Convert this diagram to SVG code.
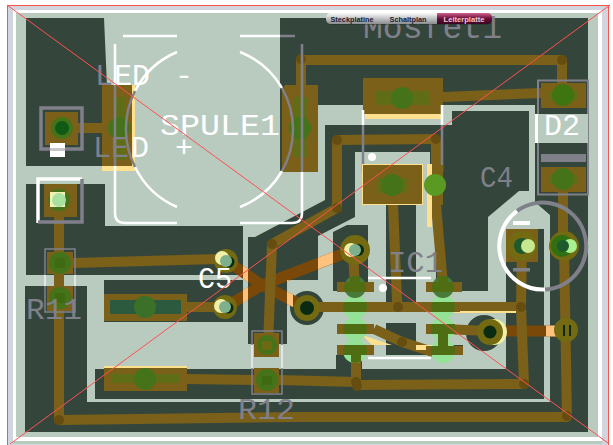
<svg xmlns="http://www.w3.org/2000/svg" width="613" height="445" viewBox="0 0 613 445">
<defs>
<linearGradient id="tabA" x1="0" y1="0" x2="0" y2="1"><stop offset="0" stop-color="#fafafa"/><stop offset="1" stop-color="#8a8c8e"/></linearGradient>
<linearGradient id="tabB" x1="0" y1="0" x2="0" y2="1"><stop offset="0" stop-color="#d0608c"/><stop offset=".5" stop-color="#6a1038"/><stop offset="1" stop-color="#3a0420"/></linearGradient>
<clipPath id="gapLight"><rect x="243" y="255" width="5" height="60"/><rect x="287" y="280" width="6" height="30"/><rect x="318" y="245" width="15" height="40"/></clipPath>
<clipPath id="icPads">
<rect x="337" y="282" width="37" height="10"/><rect x="330" y="302" width="44" height="10"/><rect x="337" y="324" width="37" height="10"/><rect x="337" y="345" width="37" height="10"/>
<rect x="426" y="282" width="36" height="10"/><rect x="430" y="302" width="30" height="10"/><rect x="426" y="324" width="29" height="10"/><rect x="426" y="346" width="37" height="9"/>
<rect x="350" y="276" width="10" height="6"/><rect x="438" y="329" width="10" height="17"/><rect x="351" y="355" width="10" height="8"/><rect x="438" y="276" width="10" height="6"/>
</clipPath>
</defs>
<style>
.d{fill:#34463b}
.l{fill:#b9cbbf}
.c{fill:#7a6018}
.y{fill:#ffe08e}
.t{fill:none;stroke:#7a6018;stroke-width:10;stroke-linecap:butt;stroke-linejoin:round}
.v{fill:#654d10}
.g{fill:#45731a}
.gs{fill:#5f6e16}
.ic{fill:#4f6e14}
.lg{fill:#94e296}
.s{fill:none;stroke:#80808a;stroke-width:2.5}
.w{fill:none;stroke:#fff;stroke-width:2.5}
.o{fill:#736a12}
.k{fill:#0a2a12}
.hl{fill:#f0f0a8}
.tx{font-family:"Liberation Mono","DejaVu Sans Mono",monospace;fill:#80808a}
.wt{fill:#fff}
.tab{font-family:"Liberation Sans",Arial,sans-serif;font-size:8px;font-weight:bold;text-anchor:middle}
</style>
<rect width="613" height="445" fill="#fff"/>
<path d="M8 6H608V445H8Z M13 10V441H602V10Z" fill="#d1d6de" fill-rule="evenodd"/>
<rect x="16" y="13" width="582" height="424" class="l"/>
<rect x="13" y="441" width="589" height="3" fill="#b9cbbf"/>

<g id="ground-fill">
<path class="d" d="M280 18H588V432H25V286H87V402H550V215L535 202V105H318V172H280Z"/>
<path class="d" d="M26 18H104L107 86H135V166H26Z"/>
<path class="d" d="M26 184H105V226H243V275H26Z"/>
<rect class="d" x="104" y="280" width="139" height="42"/>
<rect class="d" x="95" y="369" width="449" height="30"/>
<rect class="d" x="506" y="229" width="38" height="170"/>
<rect class="d" x="336" y="355" width="26" height="14"/>
<path class="d" d="M325 125H452V111H529V191H519L488 217V291H436V205H430V152H355V217L318 236V280H287V344H248V237H255L325 200Z"/>
<path class="d" d="M333 232L347 225H368V291H333Z"/>
<path class="d" d="M386 205H416V303L386 312Z"/>
<path class="d" d="M386 323H416V345H463V355H386Z"/>
<circle class="d" cx="307" cy="308" r="17"/>
<circle class="d" cx="484" cy="333" r="18"/>
</g>

<g id="connectors">
<path d="M234 266L262 285L307 308M234 302L262 285L353 250" fill="none" stroke="#7a4808" stroke-width="11"/>
<path d="M234 266L262 285L307 308M234 302L262 285L353 250" fill="none" stroke="#ffc27e" stroke-width="11" clip-path="url(#gapLight)"/>
<path d="M500 331H556" fill="none" stroke="#7a4808" stroke-width="11"/>
<path d="M546 331H556" fill="none" stroke="#ffc27e" stroke-width="11"/>
<path class="t" d="M78 128H110"/>
<path class="t" d="M301 59V90M300 60H562V90"/>
<path class="t" d="M443 97L541 93"/>
<path class="t" d="M436 139L337 140V208L272 244L268 345"/>
<path class="t" d="M436 139V205L443 285"/>
<path class="t" d="M393 204L397 300L398 307"/>
<path class="t" d="M59 217V420L300 417H567L564 246"/>
<path class="t" d="M563 192V246"/>
<path class="t" d="M73 263L218 259"/>
<path class="t" d="M187 307H218"/>
<path class="t" d="M187 379L254 380M279 380L356 382"/>
<path class="t" d="M357 385L524 384L521 307L522 243"/>
<path class="t" d="M316 307H521"/>
<path class="t" d="M353 250L355 290"/>
<path class="t" d="M443 329L490 331"/>
<path class="t" d="M443 329V351"/>
<path class="t" d="M374 329L402 342L433 352"/>
<path class="t" d="M356 351V382"/>
<path class="y" d="M362 335L392 345H372ZM416 345H433L437 350H416Z"/>
<rect class="y" x="450" y="311" width="66" height="2"/>
<rect class="y" x="427" y="205" width="5" height="22"/>
<circle class="v" cx="301" cy="59" r="5"/>
<circle class="v" cx="562" cy="60" r="5"/>
<circle class="v" cx="337" cy="140" r="5"/>
<circle class="v" cx="436" cy="139" r="5"/>
<circle class="v" cx="337" cy="208" r="5"/>
<circle class="v" cx="272" cy="244" r="5"/>
<circle class="v" cx="59" cy="420" r="5"/>
<circle class="v" cx="567" cy="416" r="5"/>
<circle class="v" cx="356" cy="382" r="5"/>
<circle class="v" cx="357" cy="386" r="5"/>
<circle class="v" cx="524" cy="384" r="5"/>
<circle class="v" cx="398" cy="307" r="5"/>
<circle class="v" cx="521" cy="307" r="5"/>
<circle class="v" cx="402" cy="342" r="5"/>
</g>

<g id="SPULE1">
<path class="y" d="M132 85H135V171H102V166H132Z"/>
<rect class="c" x="102" y="85" width="30" height="81"/>
<rect class="gs" x="116" y="97" width="9" height="63"/>
<circle class="g" cx="119" cy="128" r="11"/>
<path class="c" d="M282 90L285 85H318V172H282Z"/>
<rect class="gs" x="294" y="97" width="13" height="60"/>
<circle class="g" cx="300" cy="128" r="11"/>
<path class="w" d="M123 36H177M240 36H280M115 44V85M115 166V213Q115 223 125 223H177M240 223H292Q302 223 302 213V172M177 52A84 84 0 0 0 135 91M135 167A84 84 0 0 0 177 207M240 52A84 84 0 0 1 282 88M282 171A84 84 0 0 1 240 207"/>
<path class="s" d="M280 36H295M115 85V166M302 44V172M135 91A84 84 0 0 0 135 167M282 88A84 84 0 0 1 282 171"/>
<text class="tx wt" font-size="30" y="135" x="160" textLength="120" lengthAdjust="spacingAndGlyphs">SPULE1</text>
</g>

<g id="LED-minus">
<rect class="c" x="45" y="112" width="33" height="33"/>
<rect x="41" y="108" width="41" height="41" fill="none" stroke="#80808a" stroke-width="3.5"/>
<circle class="g" cx="62" cy="128" r="11"/>
<circle cx="62" cy="128" r="7" fill="#0f5a14"/>
<rect x="50" y="143" width="15" height="14" fill="#fff"/>
<rect x="50" y="148" width="15" height="3" fill="#c8c8cc"/>
<text class="tx" font-size="30" y="85"><tspan x="95">L</tspan><tspan x="114" class="wt">ED</tspan><tspan x="175" class="wt">-</tspan></text>
</g>

<g id="LED-plus">
<rect class="c" x="44" y="184" width="33" height="33"/>
<path d="M38 223V179H82" fill="none" stroke="#fff" stroke-width="3.5"/>
<path d="M82 179V222H38" fill="none" stroke="#80808a" stroke-width="3.5"/>
<circle class="g" cx="59" cy="200" r="11"/>
<rect x="50" y="192" width="15" height="15" fill="#f4f0b4"/>
<circle cx="59" cy="200" r="7" fill="#a8e0a0"/>
<text class="tx" font-size="30" y="157"><tspan x="93">LE</tspan><tspan x="131" class="wt">D</tspan><tspan x="175" class="wt">+</tspan></text>
</g>

<g id="Mosfet1">
<rect class="y" x="365" y="110" width="78" height="9"/>
<rect class="c" x="363" y="78" width="80" height="36"/>
<rect class="gs" x="376" y="91" width="53" height="14"/>
<circle class="g" cx="402" cy="98" r="11"/>
<path d="M363 110V125M442 105V125" class="w"/>
<path d="M363 125V172M442 125V172" class="s"/>
<rect class="y" x="362" y="164" width="61" height="41"/>
<rect class="c" x="363" y="165" width="59" height="39"/>
<rect class="gs" x="377" y="178" width="30" height="15"/>
<circle class="g" cx="392" cy="185" r="11"/>
<rect class="c" x="432" y="165" width="11" height="40"/>
<rect class="y" x="427" y="164" width="5" height="41"/>
<circle cx="435" cy="185" r="11" fill="#5a9a22"/>
<circle cx="372" cy="157" r="4" fill="#fff"/>
<text class="tx" font-size="33" x="363" y="38" textLength="139" lengthAdjust="spacingAndGlyphs">Mosfet1</text>
</g>

<g id="D2">
<rect x="538" y="80.500" width="50" height="114" fill="none" stroke="#80808a" stroke-width="2"/>
<rect class="l" x="535" y="114" width="53" height="29"/>
<rect x="535" y="114" width="3" height="29" fill="#fff"/>
<rect class="c" x="541" y="83" width="45" height="25"/>
<rect class="gs" x="549" y="91" width="29" height="9"/>
<circle cx="563" cy="95" r="11" fill="#3f7510"/>
<rect x="541" y="154" width="45" height="8" fill="#80808a"/>
<rect class="c" x="541" y="167" width="45" height="25"/>
<rect class="gs" x="549" y="175" width="29" height="9"/>
<circle class="g" cx="563" cy="179" r="11"/>
<text class="tx wt" font-size="30" x="544" y="135" textLength="36" lengthAdjust="spacingAndGlyphs">D2</text>
</g>

<g id="C4">
<path d="M517 211A43.500 43.500 0 1 1 545 289.500" fill="none" stroke="#80808a" stroke-width="4"/>
<path d="M517 211A43.500 43.500 0 0 0 545 289.500" fill="none" stroke="#fff" stroke-width="4"/>
<rect class="c" x="506" y="229" width="32" height="33"/>
<circle class="o" cx="522" cy="246" r="15"/>
<circle cx="522" cy="246" r="8" fill="#1f5a2c"/>
<circle cx="528" cy="246" r="7" fill="#c8e890"/>
<rect x="513" y="268" width="17" height="3.500" fill="#80808a"/>
<rect x="513" y="221" width="17" height="4" fill="#fff"/>
<text class="tx" font-size="30" x="480" y="187" textLength="33" lengthAdjust="spacingAndGlyphs">C4</text>
</g>

<g id="C4-plus">
<circle class="o" cx="564" cy="246" r="15"/>
<circle cx="562" cy="246" r="11" fill="#2f7012"/>
<circle cx="570" cy="246" r="7" fill="#a8f090"/>
<circle cx="563" cy="246" r="6" fill="#1f5a2c"/>
</g>

<g id="R11">
<rect class="c" x="47" y="252" width="26" height="22"/>
<rect class="c" x="47" y="286" width="26" height="25"/>
<circle class="g" cx="60" cy="263" r="11"/>
<circle class="g" cx="60" cy="298" r="11"/>
<rect x="55" y="258" width="10" height="10" fill="#3f6a12"/>
<rect x="55" y="293" width="10" height="10" fill="#3f6a12"/>
<rect x="45" y="249" width="30" height="63" fill="none" stroke="#80808a" stroke-width="1.500"/>
<path d="M45 275V286M75 275V286" stroke="#fff" stroke-width="1.500" fill="none"/>
<text class="tx" font-size="29" x="26" y="319" textLength="56" lengthAdjust="spacingAndGlyphs">R11</text>
</g>

<g id="R12">
<rect class="c" x="254" y="333" width="25" height="24"/>
<rect class="c" x="254" y="368" width="25" height="25"/>
<circle class="g" cx="267" cy="345" r="10"/>
<circle class="g" cx="267" cy="380" r="11"/>
<rect x="262" y="341" width="10" height="9" fill="#6e6a14"/>
<rect x="262" y="376" width="10" height="9" fill="#3f6a12"/>
<rect x="252" y="331" width="30" height="63" fill="none" stroke="#80808a" stroke-width="1.500"/>
<path d="M252 345V368M282 345V368" stroke="#fff" stroke-width="1.500" fill="none"/>
<text class="tx" font-size="29" x="238" y="419" textLength="57" lengthAdjust="spacingAndGlyphs">R12</text>
</g>

<g id="C5">
<circle class="o" cx="226" cy="261" r="12"/>
<circle class="hl" cx="222" cy="258" r="7"/>
<circle class="k" cx="229" cy="262" r="5.500"/>
<circle cx="226" cy="261" r="6" fill="#7fb08c"/>
<circle class="o" cx="225" cy="307" r="12"/>
<circle class="hl" cx="221" cy="306" r="7"/>
<circle class="k" cx="228" cy="308" r="5.500"/>
<circle cx="225" cy="307" r="6" fill="#7fb08c"/>
<text class="tx wt" font-size="29" x="198" y="288" textLength="34" lengthAdjust="spacingAndGlyphs">C5</text>
</g>

<g id="pad-wide-1">
<rect class="c" x="104" y="294" width="83" height="27"/>
<rect x="110" y="300" width="71" height="14" fill="#2b5a3e"/>
<circle cx="145" cy="307" r="11" fill="#3a7028"/>
</g>

<g id="pad-wide-2">
<rect class="y" x="104" y="366" width="83" height="3"/>
<rect class="c" x="104" y="368" width="83" height="23"/>
<rect class="gs" x="112" y="374" width="67" height="9"/>
<circle class="g" cx="145" cy="379" r="11"/>
</g>

<g id="via-1"><circle class="o" cx="307" cy="308" r="13"/><circle class="k" cx="307" cy="308" r="7"/></g>
<g id="via-2"><circle class="hl" cx="494" cy="332" r="13"/><circle class="o" cx="490" cy="332" r="13"/><circle class="k" cx="490" cy="332" r="6.500"/></g>
<g id="via-3"><circle class="o" cx="566" cy="330" r="12"/><rect x="563" y="325" width="2" height="11" class="k"/><rect x="569" y="325" width="2" height="11" class="k"/></g>
<g id="via-4"><circle class="o" cx="355" cy="250" r="15"/><circle class="hl" cx="351" cy="250" r="7"/><circle class="k" cx="358" cy="250" r="6"/><circle cx="355" cy="250" r="6" fill="#7fb08c"/></g>

<g id="IC1">
<circle class="lg" cx="355" cy="307" r="12"/><circle class="lg" cx="355" cy="329" r="12"/><circle class="lg" cx="355" cy="351" r="12"/><circle cx="355" cy="287" r="11" fill="#4a7a3a"/>
<circle class="lg" cx="443" cy="307" r="12"/><circle class="lg" cx="443" cy="329" r="12"/><circle class="lg" cx="443" cy="351" r="12"/><circle cx="443" cy="287" r="11" fill="#4a7a3a"/>
<rect class="c" x="337" y="282" width="37" height="10"/><rect class="c" x="330" y="302" width="44" height="10"/><rect class="c" x="337" y="324" width="37" height="10"/><rect class="c" x="337" y="345" width="37" height="10"/>
<rect class="c" x="426" y="282" width="36" height="10"/><rect class="c" x="430" y="302" width="30" height="10"/><rect class="c" x="426" y="324" width="29" height="10"/><rect class="c" x="426" y="346" width="37" height="9"/>
<g clip-path="url(#icPads)" class="ic">
<circle cx="355" cy="287" r="11"/><circle cx="355" cy="307" r="12"/><circle cx="355" cy="329" r="12"/><circle cx="355" cy="351" r="12"/>
<circle cx="443" cy="287" r="11"/><circle cx="443" cy="307" r="12"/><circle cx="443" cy="329" r="12"/><circle cx="443" cy="351" r="12"/>
</g>
<path d="M368 278H431M368 358H431" fill="none" stroke="#fff" stroke-width="2.500"/>
<circle cx="383" cy="288" r="4" fill="#fff"/>
<text class="tx" font-size="30" x="388" y="272" textLength="55" lengthAdjust="spacingAndGlyphs">IC1</text>
</g>

<g id="overlay-cross" fill="none" stroke="#ff5050" stroke-width="1">
<path d="M7.500 445V5.500H610"/>
<path d="M608.500 5.500V445"/>
<path d="M7 5L608 443M610 5L10 444"/>
</g>

<g id="view-tabs">
<rect x="326" y="14" width="166" height="11" rx="5" fill="#222" opacity=".35"/>
<path d="M331 13H380V24H331Q326 24 326 19V18Q326 13 331 13Z" fill="url(#tabA)"/>
<rect x="380" y="13" width="57" height="11" fill="url(#tabA)"/>
<path d="M437 13H487Q492 13 492 18V19Q492 24 487 24H437Z" fill="url(#tabB)"/>
<text class="tab" x="352" y="21.500" fill="#1a1a33" textLength="43" lengthAdjust="spacingAndGlyphs">Steckplatine</text>
<text class="tab" x="408" y="21.500" fill="#1a1a33" textLength="37" lengthAdjust="spacingAndGlyphs">Schaltplan</text>
<text class="tab" x="464" y="21.500" fill="#f0c8d8" textLength="41" lengthAdjust="spacingAndGlyphs">Leiterplatte</text>
</g>
</svg>
